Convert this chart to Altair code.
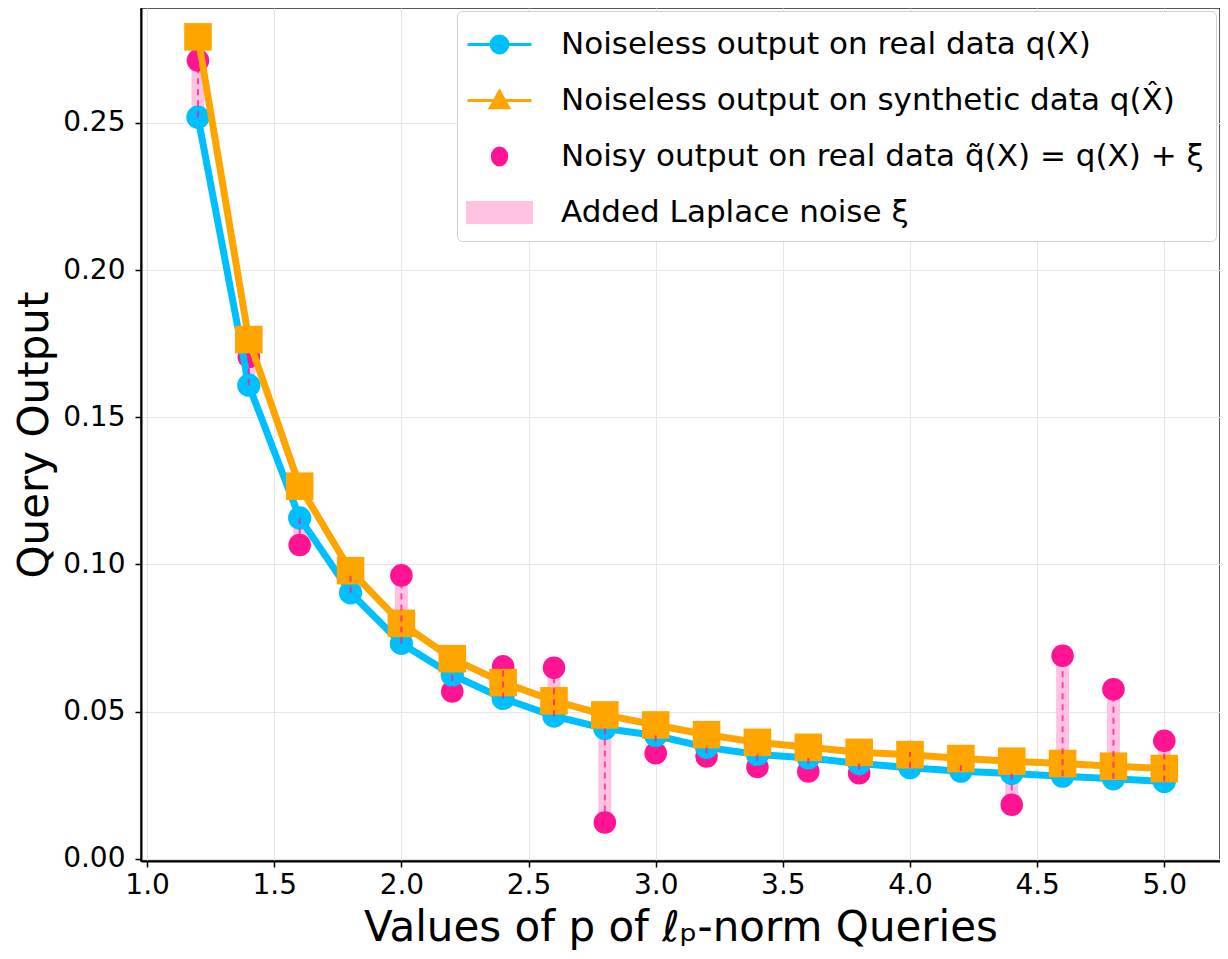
import altair as alt
import pandas as pd

# ---- data ----
p_values = [1.2, 1.4, 1.6, 1.8, 2.0, 2.2, 2.4, 2.6, 2.8, 3.0,
            3.2, 3.4, 3.6, 3.8, 4.0, 4.2, 4.4, 4.6, 4.8, 5.0]
real_output = [0.2519, 0.1609, 0.1158, 0.0904, 0.0732, 0.0625, 0.0545, 0.0485, 0.0443, 0.0419,
               0.0379, 0.0355, 0.0343, 0.0324, 0.0310, 0.0298, 0.0290, 0.0281, 0.0272, 0.0263]
synthetic_output = [0.2792, 0.1764, 0.1266, 0.0979, 0.0800, 0.0680, 0.0599, 0.0537, 0.0489, 0.0455,
                    0.0422, 0.0396, 0.0379, 0.0362, 0.0354, 0.0341, 0.0332, 0.0324, 0.0315, 0.0307]
noisy_output = [0.2712, 0.1705, 0.1066, 0.0970, 0.0963, 0.0569, 0.0654, 0.0649, 0.0124, 0.0359,
                0.0348, 0.0312, 0.0297, 0.0291, 0.0363, 0.0322, 0.0184, 0.0690, 0.0576, 0.0401]

x_ticks = [1.0, 1.5, 2.0, 2.5, 3.0, 3.5, 4.0, 4.5, 5.0]
y_ticks = [0.00, 0.05, 0.10, 0.15, 0.20, 0.25]

legend_labels = [
    "Noiseless output on real data q(X)",
    "Noiseless output on synthetic data q(X\u0302)",
    "Noisy output on real data q\u0303(X) = q(X) + \u03be",
    "Added Laplace noise \u03be",
]

BLUE = "#00bfff"
ORANGE = "#ffa500"
PINK = "#ff1493"
LIGHT_PINK = "#ffc3e1"
legend_colors = [BLUE, ORANGE, PINK, LIGHT_PINK]
legend_shapes = [
    "M-1.6,0L1.6,0M0.42,0A0.42,0.42,0,1,1,-0.42,0A0.42,0.42,0,1,1,0.42,0Z",
    "M-1.6,0L1.6,0M0,-0.46L0.46,0.36L-0.46,0.36Z",
    "M0.36,0A0.36,0.42,0,1,1,-0.36,0A0.36,0.42,0,1,1,0.36,0Z",
    "M-1.6,-0.5H1.6V0.5H-1.6Z",
]

df = pd.DataFrame({
    "p": p_values,
    "real": real_output,
    "synthetic": synthetic_output,
    "noisy": noisy_output,
})
legend_df = pd.DataFrame({"series": legend_labels})

FONT = "DejaVu Sans"

x_enc = alt.X("p:Q",
              scale=alt.Scale(domain=[0.976, 5.219], nice=False, zero=False),
              axis=alt.Axis(values=x_ticks, format=".1f",
                            title="Values of p of \u2113\u209a-norm Queries"))
y_scale = alt.Scale(domain=[-0.0007, 0.2890], nice=False, zero=False)
y_axis = alt.Axis(values=y_ticks, format=".2f", title="Query Output")

base = alt.Chart(df)

noise_bar = base.mark_rule(color=LIGHT_PINK, strokeWidth=13, opacity=1).encode(
    x=x_enc,
    y=alt.Y("real:Q", scale=y_scale, axis=y_axis),
    y2="noisy:Q",
)

noisy_pts = base.mark_point(filled=True, shape="circle", size=510, color=PINK, opacity=1).encode(
    x="p:Q", y="noisy:Q")

real_line = base.mark_line(color=BLUE, strokeWidth=7).encode(x="p:Q", y="real:Q")
real_pts = base.mark_point(filled=True, shape="circle", size=540, color=BLUE, opacity=1).encode(
    x="p:Q", y="real:Q")

syn_line = base.mark_line(color=ORANGE, strokeWidth=7).encode(x="p:Q", y="synthetic:Q")
syn_pts = base.mark_point(filled=True, shape="square", size=760, color=ORANGE, opacity=1).encode(
    x="p:Q", y="synthetic:Q")

dashes = base.mark_rule(color=PINK, strokeWidth=2, strokeDash=[6, 5], opacity=0.75).encode(
    x="p:Q", y="real:Q", y2="noisy:Q")

legend_layer = alt.Chart(legend_df).mark_point(opacity=1, strokeWidth=3).encode(
    fill=alt.Fill("series:N", scale=alt.Scale(domain=legend_labels, range=legend_colors),
                  legend=alt.Legend(title=None)),
    stroke=alt.Stroke("series:N", scale=alt.Scale(domain=legend_labels, range=legend_colors),
                      legend=alt.Legend(title=None)),
    shape=alt.Shape("series:N", scale=alt.Scale(domain=legend_labels, range=legend_shapes),
                    legend=alt.Legend(title=None)),
).transform_filter("false")

chart = alt.layer(
    noise_bar, noisy_pts, real_line, real_pts, syn_line, syn_pts, dashes, legend_layer
).properties(
    width=1079,
    height=853,
    autosize=alt.AutoSizeParams(type="none"),
    padding={"left": 133, "top": 0, "right": 0, "bottom": 90},
).configure_view(
    stroke="#222222", strokeWidth=1.5
).configure_axis(
    labelFont=FONT, titleFont=FONT,
    labelFontSize=28, titleFontSize=42,
    labelColor="black", titleColor="black",
    titleFontWeight="normal",
    domainColor="black", domainWidth=2,
    tickColor="black", tickSize=6, tickWidth=1.5,
    gridColor="#e6e6e6", gridWidth=1,
).configure_axisX(
    labelPadding=4, titlePadding=8,
).configure_axisY(
    labelPadding=10, titlePadding=6,
).configure_legend(
    orient="none", legendX=316, legendY=3,
    labelFont=FONT, labelFontSize=31, labelColor="black",
    symbolSize=1600, symbolStrokeWidth=3, symbolOffset=9,
    labelOffset=40, rowPadding=19, padding=12,
    fillColor="white", strokeColor="#d0d0d0", cornerRadius=5,
    labelLimit=900,
)

chart.save("out.html", embed_options={"renderer": "svg", "actions": False})
